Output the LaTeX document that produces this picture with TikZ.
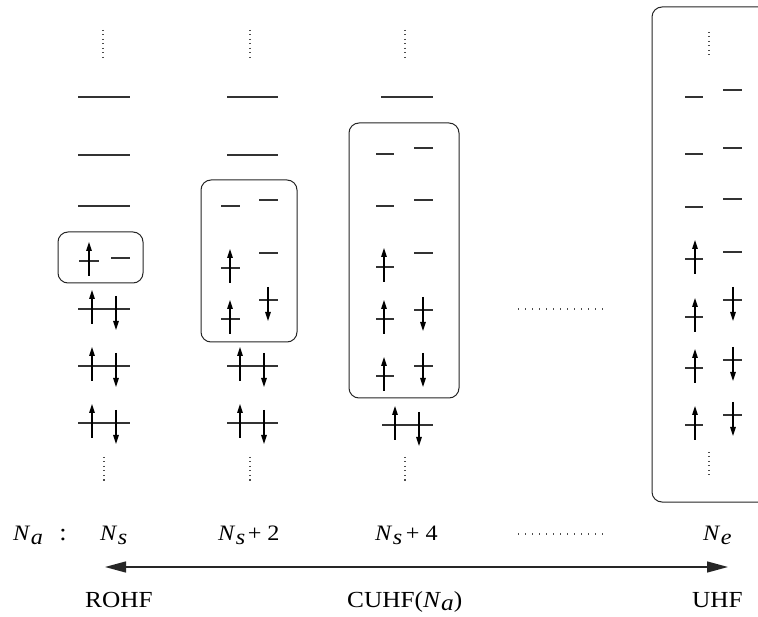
\documentclass[tikz,border=0pt]{standalone}
\usepackage{fontspec}
\setmainfont{Liberation Serif}
\usetikzlibrary{arrows.meta}
\newcommand\wide[1]{\scalebox{1.1}[1]{#1}}
\newcommand\Nsb[1]{\textit{N}\kern0.02em\raisebox{-0.4ex}{\textit{#1}}}
\newcommand\mylv[3]{\draw[lvl] (#1,#3) -- (#2,#3);}
\newcommand\myup[2]{\draw[elec] (#1,#2+15) -- (#1,#2-19);}
\newcommand\mydn[2]{\draw[elec] (#1,#2-13) -- (#1,#2+21);}
\tikzset{
  lvl/.style={line width=1.3pt, black!80},
  elec/.style={line width=1.5pt, black, -{Triangle[length=9pt,width=5.5pt]}},
  box/.style={line width=1pt, black!85, rounded corners=10pt},
  vdots/.style={line width=1.1pt, black!70, dash pattern=on 1pt off 3.5pt},
  hdots/.style={line width=1.1pt, black!70, dash pattern=on 1.2pt off 5.8pt},
  mainarr/.style={line width=1.4pt, black!85, {Triangle[length=21pt,width=11pt]}-{Triangle[length=21pt,width=11pt]}},
  nlab/.style={font=\fontsize{22}{26}\selectfont, anchor=base west, inner sep=0pt},
  mlab/.style={font=\fontsize{23}{27}\selectfont, anchor=base west, inner sep=0pt}
}
\begin{document}
\begin{tikzpicture}[x=1pt,y=-1pt]
\clip (0,0) rectangle (758,617);
\fill[white] (0,0) rectangle (758,617);
% ---------- column 1: ROHF ----------
\draw[vdots] (103,30) -- (103,58);
\mylv{78}{130}{97}\mylv{78}{130}{155}\mylv{78}{130}{206}
\draw[box] (58,232) rectangle (143,283);
\mylv{79}{99}{261}\myup{89}{261}\mylv{111}{130}{258}
\foreach \yy in {309,366,423}{\mylv{78}{130}{\yy}\myup{92}{\yy}\mydn{116}{\yy}}
\draw[vdots] (104,457) -- (104,483);
% ---------- column 2 ----------
\draw[vdots] (250,30) -- (250,58);
\mylv{227}{278}{97}\mylv{227}{278}{155}
\draw[box] (201,180) rectangle (297,342);
\mylv{221}{240}{206}\mylv{259}{278}{200}
\mylv{221}{240}{268}\myup{230}{268}\mylv{259}{278}{253}
\mylv{221}{240}{319}\myup{230}{319}\mylv{259}{278}{300}\mydn{268}{300}
\foreach \yy in {366,423}{\mylv{227}{278}{\yy}\myup{240}{\yy}\mydn{264}{\yy}}
\draw[vdots] (250,457) -- (250,483);
% ---------- column 3 ----------
\draw[vdots] (405,30) -- (405,58);
\mylv{381}{433}{97}
\draw[box] (349,123) rectangle (459,398);
\mylv{376}{394}{154}\mylv{414}{433}{148}
\mylv{376}{394}{206}\mylv{414}{433}{200}
\mylv{376}{394}{267}\myup{384}{267}\mylv{414}{433}{253}
\mylv{376}{394}{319}\myup{384}{319}\mylv{414}{433}{310}\mydn{423}{310}
\mylv{376}{394}{376}\myup{384}{376}\mylv{414}{433}{366}\mydn{423}{366}
\mylv{382}{433}{425}\myup{395}{425}\mydn{419}{425}
\draw[vdots] (405,457) -- (405,483);
% ---------- column 4: UHF ----------
\draw[box] (652,7) rectangle (790,502);
\draw[vdots] (709,32) -- (709,58);
\mylv{685}{703}{97}\mylv{723}{742}{90}
\mylv{685}{703}{154}\mylv{723}{742}{148}
\mylv{685}{703}{207}\mylv{723}{742}{199}
\mylv{685}{703}{259}\myup{695}{259}\mylv{723}{742}{252}
\mylv{685}{703}{317}\myup{695}{317}\mylv{723}{742}{300}\mydn{733}{300}
\mylv{685}{703}{368}\myup{695}{368}\mylv{723}{742}{360}\mydn{733}{360}
\mylv{685}{703}{425}\myup{695}{425}\mylv{723}{742}{415}\mydn{733}{415}
\draw[vdots] (709,452) -- (709,477);
% ---------- middle dots ----------
\draw[hdots] (518,309) -- (605,309);
\draw[hdots] (518,534) -- (605,534);
% ---------- labels ----------
\node[nlab] (na) at (13,540) {\wide{\Nsb{a}}};
\node[nlab, anchor=base, font=\fontsize{24}{28}\selectfont] (colon) at (63,540) {\wide{:}};
\node[nlab] (ns) at (100,540) {\wide{\Nsb{s}}};
\node[nlab] (ns2) at (218,540) {\wide{\Nsb{s}\kern0.1em+\kern0.25em2}};
\node[nlab] (ns4) at (375,540) {\wide{\Nsb{s}\kern0.15em+\kern0.25em4}};
\node[nlab] (ne) at (703,540) {\wide{\Nsb{e}}};
\coordinate (al) at (105,567);
\coordinate (ar) at (728,567);
\draw[mainarr] (al) -- (ar);
\node[mlab] (rohf) at (85,607) {\wide{ROHF}};
\node[mlab] (cuhf) at (347,607) {\wide{CUHF(\textit{N}\raisebox{-0.3ex}{\textit{a}})}};
\node[mlab] (uhf) at (692,607) {\wide{UHF}};
\end{tikzpicture}
\end{document}
